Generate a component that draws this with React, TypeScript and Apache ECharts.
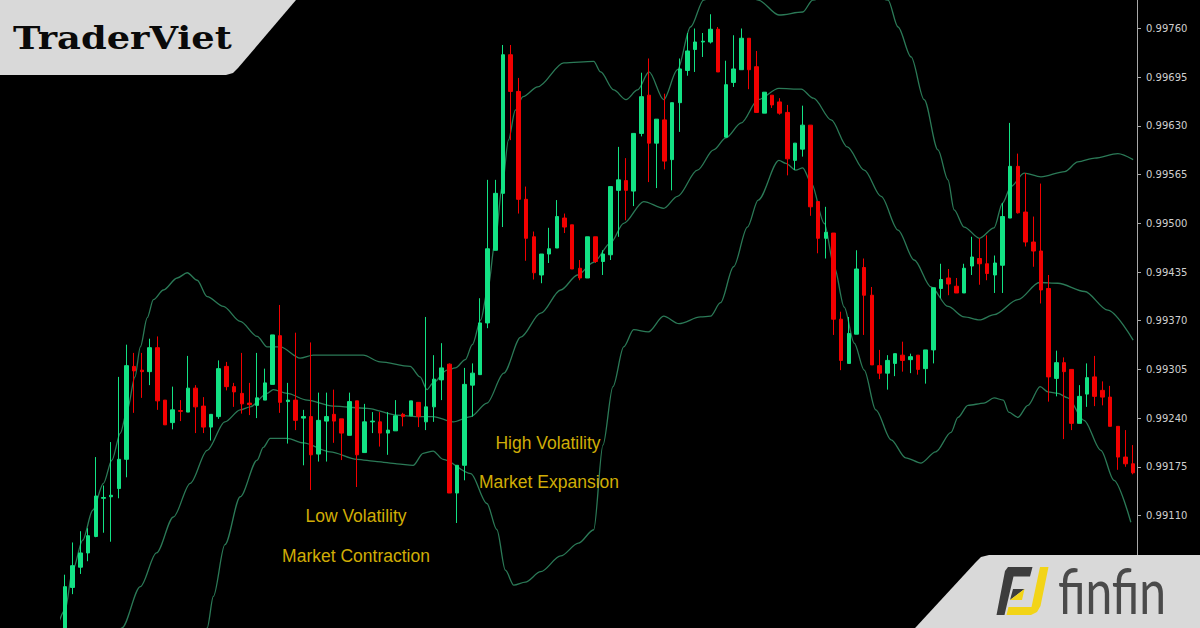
import React, { useEffect, useRef } from "react";
import * as echarts from "echarts";

// ---------- price data (one entry per candle, left to right) ----------
const OPEN = [
  0.98937, 0.99014, 0.99041, 0.99060, 0.99082, 0.99133, 0.99135, 0.99146, 0.99185, 0.99309,
  0.99304, 0.99302, 0.99334, 0.99264, 0.99234, 0.99250, 0.99248, 0.99280, 0.99256, 0.99228,
  0.99242, 0.99309, 0.99282, 0.99273, 0.99260, 0.99257, 0.99264, 0.99285, 0.99350, 0.99262,
  0.99264, 0.99240, 0.99242, 0.99192, 0.99236, 0.99245, 0.99239, 0.99217, 0.99263, 0.99194,
  0.99235, 0.99235, 0.99220, 0.99223, 0.99245, 0.99243, 0.99261, 0.99235, 0.99255, 0.99291,
  0.99312, 0.99140, 0.99177, 0.99284, 0.99298, 0.99367, 0.99464, 0.99540, 0.99725, 0.99676,
  0.99532, 0.99482, 0.99431, 0.99459, 0.99467, 0.99507, 0.99498, 0.99440, 0.99427, 0.99482,
  0.99449, 0.99458, 0.99544, 0.99557, 0.99543, 0.99620, 0.99671, 0.99607, 0.99638, 0.99585,
  0.99661, 0.99704, 0.99732, 0.99742, 0.99742, 0.99759, 0.99615, 0.99688, 0.99705, 0.99747,
  0.99709, 0.99647, 0.99671, 0.99662, 0.99648, 0.99584, 0.99599, 0.99631, 0.99529, 0.99480,
  0.99487, 0.99372, 0.99313, 0.99352, 0.99441, 0.99404, 0.99310, 0.99300, 0.99313, 0.99324,
  0.99318, 0.99324, 0.99306, 0.99331, 0.99413, 0.99427, 0.99416, 0.99407, 0.99443, 0.99453,
  0.99446, 0.99431, 0.99444, 0.99507, 0.99576, 0.99515, 0.99475, 0.99463, 0.99413, 0.99293,
  0.99314, 0.99305, 0.99233, 0.99272, 0.99295, 0.99277, 0.99268, 0.99229, 0.99188, 0.99179,
];
const CLOSE = [
  0.99015, 0.99043, 0.99060, 0.99083, 0.99136, 0.99134, 0.99137, 0.99185, 0.99310, 0.99303,
  0.99302, 0.99334, 0.99263, 0.99231, 0.99251, 0.99249, 0.99280, 0.99255, 0.99228, 0.99245,
  0.99306, 0.99282, 0.99275, 0.99259, 0.99258, 0.99267, 0.99287, 0.99351, 0.99261, 0.99264,
  0.99237, 0.99242, 0.99191, 0.99237, 0.99242, 0.99236, 0.99220, 0.99262, 0.99191, 0.99235,
  0.99236, 0.99220, 0.99224, 0.99243, 0.99242, 0.99263, 0.99242, 0.99255, 0.99292, 0.99307,
  0.99140, 0.99177, 0.99285, 0.99300, 0.99367, 0.99466, 0.99540, 0.99725, 0.99676, 0.99532,
  0.99480, 0.99434, 0.99459, 0.99466, 0.99509, 0.99495, 0.99439, 0.99427, 0.99482, 0.99449,
  0.99459, 0.99549, 0.99558, 0.99544, 0.99620, 0.99669, 0.99607, 0.99639, 0.99583, 0.99661,
  0.99706, 0.99730, 0.99742, 0.99743, 0.99759, 0.99702, 0.99685, 0.99706, 0.99747, 0.99705,
  0.99648, 0.99675, 0.99658, 0.99647, 0.99586, 0.99607, 0.99631, 0.99522, 0.99480, 0.99488,
  0.99372, 0.99317, 0.99353, 0.99439, 0.99404, 0.99311, 0.99300, 0.99317, 0.99326, 0.99317,
  0.99322, 0.99305, 0.99331, 0.99414, 0.99425, 0.99419, 0.99407, 0.99440, 0.99455, 0.99446,
  0.99433, 0.99447, 0.99509, 0.99576, 0.99514, 0.99475, 0.99463, 0.99411, 0.99295, 0.99314,
  0.99302, 0.99233, 0.99269, 0.99294, 0.99269, 0.99268, 0.99229, 0.99188, 0.99179, 0.99167,
];
const LOW = [
  0.98924, 0.99005, 0.99032, 0.99049, 0.99081, 0.99087, 0.99075, 0.99133, 0.99161, 0.99247,
  0.99267, 0.99284, 0.99251, 0.99231, 0.99225, 0.99236, 0.99248, 0.99220, 0.99220, 0.99210,
  0.99239, 0.99277, 0.99255, 0.99246, 0.99244, 0.99240, 0.99264, 0.99285, 0.99247, 0.99206,
  0.99224, 0.99177, 0.99144, 0.99182, 0.99182, 0.99207, 0.99184, 0.99217, 0.99148, 0.99194,
  0.99220, 0.99202, 0.99191, 0.99223, 0.99229, 0.99243, 0.99228, 0.99224, 0.99235, 0.99264,
  0.99140, 0.99100, 0.99157, 0.99242, 0.99298, 0.99360, 0.99464, 0.99495, 0.99611, 0.99513,
  0.99450, 0.99425, 0.99420, 0.99447, 0.99467, 0.99487, 0.99439, 0.99424, 0.99427, 0.99447,
  0.99431, 0.99451, 0.99482, 0.99504, 0.99523, 0.99616, 0.99555, 0.99547, 0.99572, 0.99544,
  0.99622, 0.99697, 0.99702, 0.99722, 0.99740, 0.99702, 0.99615, 0.99682, 0.99705, 0.99679,
  0.99648, 0.99647, 0.99654, 0.99645, 0.99564, 0.99571, 0.99589, 0.99510, 0.99460, 0.99453,
  0.99351, 0.99304, 0.99313, 0.99352, 0.99351, 0.99311, 0.99292, 0.99278, 0.99296, 0.99302,
  0.99300, 0.99298, 0.99286, 0.99313, 0.99400, 0.99404, 0.99407, 0.99407, 0.99431, 0.99418,
  0.99424, 0.99407, 0.99407, 0.99507, 0.99513, 0.99469, 0.99442, 0.99393, 0.99262, 0.99269,
  0.99212, 0.99224, 0.99233, 0.99255, 0.99256, 0.99257, 0.99229, 0.99171, 0.99175, 0.99165,
];
const HIGH = [
  0.99031, 0.99074, 0.99089, 0.99093, 0.99188, 0.99150, 0.99208, 0.99295, 0.99338, 0.99327,
  0.99327, 0.99346, 0.99349, 0.99264, 0.99282, 0.99264, 0.99323, 0.99284, 0.99268, 0.99245,
  0.99317, 0.99315, 0.99287, 0.99327, 0.99287, 0.99327, 0.99306, 0.99351, 0.99391, 0.99287,
  0.99354, 0.99251, 0.99341, 0.99274, 0.99274, 0.99278, 0.99239, 0.99274, 0.99263, 0.99259,
  0.99248, 0.99248, 0.99248, 0.99264, 0.99247, 0.99263, 0.99261, 0.99375, 0.99324, 0.99340,
  0.99313, 0.99177, 0.99307, 0.99313, 0.99400, 0.99558, 0.99558, 0.99738, 0.99738, 0.99694,
  0.99549, 0.99489, 0.99459, 0.99494, 0.99531, 0.99513, 0.99498, 0.99451, 0.99482, 0.99482,
  0.99464, 0.99549, 0.99602, 0.99587, 0.99620, 0.99701, 0.99720, 0.99639, 0.99673, 0.99661,
  0.99720, 0.99754, 0.99760, 0.99754, 0.99779, 0.99762, 0.99717, 0.99751, 0.99760, 0.99747,
  0.99730, 0.99675, 0.99671, 0.99667, 0.99658, 0.99607, 0.99657, 0.99631, 0.99529, 0.99522,
  0.99487, 0.99382, 0.99375, 0.99464, 0.99453, 0.99415, 0.99331, 0.99324, 0.99326, 0.99342,
  0.99326, 0.99324, 0.99331, 0.99414, 0.99446, 0.99439, 0.99427, 0.99446, 0.99482, 0.99480,
  0.99484, 0.99457, 0.99527, 0.99634, 0.99593, 0.99567, 0.99509, 0.99553, 0.99431, 0.99330,
  0.99321, 0.99305, 0.99284, 0.99313, 0.99323, 0.99289, 0.99283, 0.99229, 0.99224, 0.99204,
];

// ---------- Bollinger band lines (candle position, price) ----------
const UPPER_X = [
  -2.6, -1.3, 0, 1.0, 2.3, 3.6, 5.0, 6.1, 7.2, 8.1, 9.1, 9.8, 10.7, 11.5, 12.8, 14.6, 15.9, 17.2, 18.5, 20.6,
  22.8, 25.0, 26.3, 28.0, 30.6, 32.3, 34.9, 38.8, 41.0, 44.9, 46.2, 47.1, 47.9, 49.7, 50.8, 52.1, 53.0, 54.1, 55.0, 56.0,
  56.9, 57.7, 58.6, 59.6, 61.5, 64.9, 68.8, 69.7, 71.4, 73.0, 74.5, 76.0, 77.9, 79.7, 81.4, 83.1, 86.6, 90.2, 92.9, 96.0,
  97.3, 102.3, 107.1, 108.4, 110.1, 111.8, 113.6, 114.9, 115.7, 117.0, 119.0, 120.9, 122.0, 123.1, 124.8, 127.0, 130.1, 131.8, 134.0, 137.0,
  139.0,
];
const UPPER = [
  0.98917, 0.98960, 0.98984, 0.99037, 0.99077, 0.99117, 0.99153, 0.99184, 0.99220, 0.99251, 0.99295, 0.99335, 0.99374, 0.99398, 0.99411, 0.99427, 0.99434, 0.99424, 0.99402, 0.99389,
  0.99369, 0.99349, 0.99335, 0.99335, 0.99320, 0.99324, 0.99324, 0.99324, 0.99315, 0.99309, 0.99295, 0.99278, 0.99287, 0.99304, 0.99307, 0.99318, 0.99338, 0.99371, 0.99411, 0.99478,
  0.99551, 0.99611, 0.99651, 0.99669, 0.99682, 0.99714, 0.99716, 0.99702, 0.99678, 0.99665, 0.99678, 0.99702, 0.99665, 0.99705, 0.99762, 0.99798, 0.99825, 0.99798, 0.99778, 0.99782,
  0.99798, 0.99831, 0.99798, 0.99762, 0.99722, 0.99665, 0.99598, 0.99558, 0.99518, 0.99495, 0.99480, 0.99494, 0.99527, 0.99549, 0.99567, 0.99562, 0.99569, 0.99582, 0.99587, 0.99593,
  0.99585,
];
const MIDDLE_X = [
  5.9, 7.4, 9.8, 11.9, 14.1, 16.3, 18.5, 20.8, 22.8, 24.1, 26.3, 27.1, 28.9, 31.5, 34.9, 39.3, 43.2, 45.8, 47.9, 50.5,
  52.8, 54.9, 57.1, 59.3, 61.9, 64.5, 66.7, 68.8, 71.0, 72.7, 75.3, 77.9, 79.7, 82.3, 84.4, 86.0, 88.0, 90.2, 92.9, 95.8,
  97.4, 99.7, 101.8, 104.0, 106.2, 108.4, 110.5, 112.7, 114.9, 117.0, 119.0, 120.9, 124.0, 126.8, 129.2, 132.7, 135.7, 139.0,
];
const MIDDLE = [
  0.98917, 0.98960, 0.99015, 0.99060, 0.99108, 0.99153, 0.99197, 0.99235, 0.99251, 0.99255, 0.99273, 0.99278, 0.99273, 0.99264, 0.99256, 0.99253, 0.99244, 0.99242, 0.99242, 0.99235,
  0.99242, 0.99260, 0.99300, 0.99348, 0.99380, 0.99411, 0.99431, 0.99448, 0.99474, 0.99500, 0.99529, 0.99520, 0.99536, 0.99571, 0.99598, 0.99614, 0.99634, 0.99665, 0.99680, 0.99679,
  0.99667, 0.99638, 0.99602, 0.99571, 0.99536, 0.99491, 0.99451, 0.99415, 0.99389, 0.99375, 0.99371, 0.99378, 0.99398, 0.99421, 0.99420, 0.99409, 0.99384, 0.99344,
];
const LOWER_X = [
  17.6, 18.5, 19.3, 20.8, 22.8, 25.0, 25.8, 26.7, 28.9, 31.0, 34.5, 38.0, 40.6, 43.2, 45.3, 46.6, 47.9, 49.2, 52.8, 54.9,
  56.2, 57.3, 58.4, 59.9, 61.9, 64.5, 66.8, 68.8, 70.0, 71.3, 72.7, 74.0, 75.9, 77.9, 79.9, 82.7, 84.0, 85.3, 87.0, 88.8,
  90.2, 92.9, 93.8, 95.1, 96.0, 97.1, 98.8, 100.1, 101.4, 102.7, 104.0, 105.5, 107.5, 109.4, 111.4, 113.3, 115.3, 116.2, 117.5, 119.6,
  120.9, 122.1, 122.8, 124.0, 125.3, 126.9, 127.9, 129.2, 130.5, 132.6, 134.8, 136.5, 138.7,
];
const LOWER = [
  0.98917, 0.98960, 0.99002, 0.99071, 0.99135, 0.99184, 0.99201, 0.99213, 0.99213, 0.99207, 0.99195, 0.99185, 0.99182, 0.99179, 0.99177, 0.99193, 0.99196, 0.99185, 0.99166, 0.99126,
  0.99091, 0.99037, 0.99017, 0.99021, 0.99035, 0.99056, 0.99073, 0.99091, 0.99204, 0.99282, 0.99335, 0.99358, 0.99355, 0.99376, 0.99366, 0.99375, 0.99376, 0.99394, 0.99442, 0.99495,
  0.99531, 0.99584, 0.99580, 0.99571, 0.99574, 0.99554, 0.99500, 0.99442, 0.99388, 0.99340, 0.99304, 0.99251, 0.99211, 0.99187, 0.99180, 0.99195, 0.99221, 0.99241, 0.99257, 0.99260,
  0.99267, 0.99264, 0.99248, 0.99241, 0.99257, 0.99282, 0.99275, 0.99273, 0.99267, 0.99237, 0.99197, 0.99157, 0.99101,
];

// ---------- axis ----------
const BASE = 0.98915; // lowest tick-aligned price of the axis range
const TICK_STEP = 0.00065;
const TOP_PRICE = 0.99825;
const FIRST_SHOWN = 0.99110; // lowest tick label visible above the logo banner
const LAST_SHOWN = 0.99760; // highest tick label visible on the page

const ANNOTATIONS = [
  { text: "High Volatility", x: 548, y: 443 },
  { text: "Market Expansion", x: 549, y: 482 },
  { text: "Low Volatility", x: 356, y: 516 },
  { text: "Market Contraction", x: 356, y: 556 },
];

const GREEN = "#12e284";
const RED = "#f20000";
const BAND = "#2b7a57";
const OY = 60; // chart box starts 60px above the page

const toAx = (p: number) => Math.round((p - BASE) * 1e5);

export default function App() {
  const ref = useRef<HTMLDivElement>(null);
  useEffect(() => {
    document.body.style.margin = "0";
    document.body.style.background = "#000";
    const chart = echarts.init(ref.current!, null, { renderer: "svg" });
    const cats = OPEN.map((_, i) => String(i));
    const candles = OPEN.map((o, i) => [toAx(o), toAx(CLOSE[i]), toAx(LOW[i]), toAx(HIGH[i])]);
    const band = (xs: number[], ps: number[]) => xs.map((x, i) => [x, toAx(ps[i])]);
    const baseInt = Math.round(BASE * 1e5);
    const lo = toAx(FIRST_SHOWN);
    const hi = toAx(LAST_SHOWN);
    const lineSeries = (name: string, xs: number[], ps: number[]) => ({
      name,
      type: "line",
      xAxisIndex: 1,
      yAxisIndex: 0,
      data: band(xs, ps),
      showSymbol: false,
      smooth: 0.3,
      smoothMonotone: "x",
      clip: false,
      lineStyle: { color: BAND, width: 1.3 },
      z: 1,
    });

    const option: any = {
      animation: false,
      backgroundColor: "#000",
      grid: { left: 61.2, right: 63, top: 39.8, bottom: 38.4, containLabel: false },
      xAxis: [
        { type: "category", data: cats, show: false, boundaryGap: true },
        { type: "value", min: -0.5, max: cats.length - 0.5, show: false },
      ],
      yAxis: {
        type: "value",
        position: "right",
        min: 0,
        max: toAx(TOP_PRICE),
        interval: Math.round(TICK_STEP * 1e5),
        splitLine: { show: false },
        axisLine: { show: true, onZero: false, lineStyle: { color: "#a8a8a8", width: 1 } },
        axisTick: { show: true, length: 4, lineStyle: { color: "#a8a8a8" } },
        axisLabel: {
          color: "#cfcfcf",
          fontSize: 10,
          fontFamily: "DejaVu Sans",
          margin: 9,
          formatter: (v: number) => (v < lo || v > hi ? "" : ((v + baseInt) / 1e5).toFixed(5)),
        },
      },
      series: [
        lineSeries("Upper", UPPER_X, UPPER),
        lineSeries("Middle", MIDDLE_X, MIDDLE),
        lineSeries("Lower", LOWER_X, LOWER),
        {
          name: "Price",
          type: "candlestick",
          xAxisIndex: 0,
          yAxisIndex: 0,
          data: candles,
          barWidth: 4,
          itemStyle: {
            color: GREEN,
            color0: RED,
            borderColor: GREEN,
            borderColor0: RED,
            borderWidth: 1,
          },
          z: 3,
        },
      ],
      graphic: [
        ...ANNOTATIONS.map((a) => ({
          type: "text",
          x: a.x,
          y: a.y + OY,
          z: 50,
          style: {
            text: a.text,
            fill: "#d0ad06",
            fontSize: 17.5,
            fontFamily: "Liberation Sans",
            align: "center",
            verticalAlign: "middle",
          },
        })),
        {
          type: "polygon",
          z: 100,
          shape: { points: [[0, 0], [296, 0], [296, OY], [238, OY + 68], [233, OY + 73], [226, OY + 75], [0, OY + 75]] },
          style: { fill: "#d9d9d9" },
        },
        {
          type: "text",
          x: 13,
          y: OY + 38,
          z: 101,
          scaleX: 1.15,
          style: {
            text: "TraderViet",
            fill: "#0a0a0a",
            fontSize: 32,
            fontWeight: "bold",
            fontFamily: "DejaVu Serif",
            verticalAlign: "middle",
          },
        },
        {
          type: "polygon",
          z: 100,
          shape: { points: [[904, OY + 640], [976, OY + 562], [981, OY + 557], [989, OY + 555], [1200, OY + 555], [1200, OY + 640]] },
          style: { fill: "#d9d9d9" },
        },
        {
          type: "polygon",
          z: 101,
          shape: { points: [[1008, OY + 567], [1032.5, OY + 567], [1030, OY + 576.5], [1013.5, OY + 576.5], [1004.5, OY + 615], [996.5, OY + 615], [1005, OY + 571]] },
          style: { fill: "#3d3d3d" },
        },
        {
          type: "polygon",
          z: 101,
          shape: { points: [[1013, OY + 589], [1024.5, OY + 589], [1010, OY + 600]] },
          style: { fill: "#3d3d3d" },
        },
        {
          type: "polygon",
          z: 101,
          shape: { points: [[1024.5, OY + 589], [1022, OY + 600], [1010, OY + 600]] },
          style: { fill: "#f2d417" },
        },
        {
          type: "polygon",
          z: 101,
          shape: { points: [[1040, OY + 567], [1048.5, OY + 567], [1040.5, OY + 606], [1037, OY + 612], [1031, OY + 615], [1006.5, OY + 615], [1008.5, OY + 607], [1031.5, OY + 607]] },
          style: { fill: "#f2d417" },
        },
        {
          type: "text",
          x: 1058,
          y: OY + 590,
          z: 101,
          scaleY: 1.3,
          style: {
            text: "finfin",
            fill: "#4a4a4a",
            fontSize: 48,
            fontFamily: "Lato",
            verticalAlign: "middle",
          },
        },
      ],
    };
    chart.setOption(option);
    return () => chart.dispose();
  }, []);
  return (
    <div
      ref={ref}
      style={{ position: "fixed", left: 0, top: -OY, width: 1200, height: 760, background: "#000" }}
    />
  );
}
